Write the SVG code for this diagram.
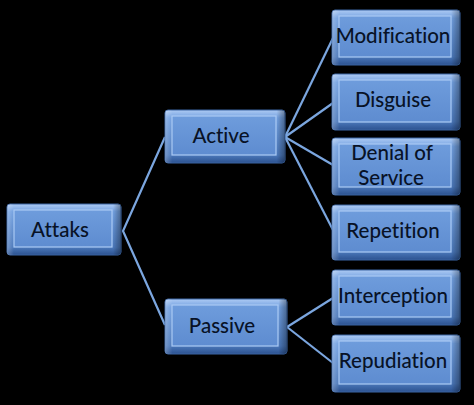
<svg xmlns="http://www.w3.org/2000/svg" width="474" height="405" viewBox="0 0 474 405">
<defs>
<linearGradient id="gv" x1="0" y1="0" x2="0" y2="1">
<stop offset="0" stop-color="#aecbf4"/>
<stop offset="0.15" stop-color="#72a0e0"/>
<stop offset="0.85" stop-color="#4b78ba"/>
<stop offset="1" stop-color="#2c5290"/>
</linearGradient>
<linearGradient id="gh" x1="0" y1="0" x2="1" y2="0">
<stop offset="0" stop-color="#ffffff" stop-opacity="0.25"/>
<stop offset="0.06" stop-color="#ffffff" stop-opacity="0"/>
<stop offset="0.93" stop-color="#000000" stop-opacity="0"/>
<stop offset="1" stop-color="#000000" stop-opacity="0.35"/>
</linearGradient>
<linearGradient id="gf" x1="0" y1="0" x2="0" y2="1">
<stop offset="0" stop-color="#6e9cdc"/>
<stop offset="1" stop-color="#5e8cd0"/>
</linearGradient>
</defs>
<style>
.o{fill:url(#gv);stroke:#3a64a3;stroke-width:1}
.s{fill:url(#gh)}
.f{fill:url(#gf);stroke:#abcaf3;stroke-width:1.2}
.t{font-family:Lato,"Open Sans","Liberation Sans",sans-serif;font-size:20.5px;font-weight:500;fill:#081226;text-anchor:middle;font-variant-ligatures:none}
.c{stroke:#7ba6df;stroke-width:2.2;fill:none}
</style>
<rect width="474" height="405" fill="#000000"/>
<g id="connectors">
<polyline class="c" points="165,137 123,231 165,325"/>
<line class="c" x1="285" y1="137" x2="333" y2="38"/>
<line class="c" x1="285" y1="137" x2="333" y2="103"/>
<line class="c" x1="285" y1="137" x2="333" y2="165"/>
<line class="c" x1="285" y1="137" x2="333" y2="230"/>
<line class="c" x1="287" y1="327" x2="333" y2="298"/>
<line class="c" x1="287" y1="327" x2="333" y2="363"/>
</g>
<g id="attaks">
<rect class="o" x="7" y="204" width="114" height="51" rx="3"/>
<rect class="s" x="7" y="204" width="114" height="51" rx="3"/>
<rect class="f" x="14" y="210" width="98" height="37"/>
<text class="t" x="60" y="237">Attaks</text>
</g>
<g id="active">
<rect class="o" x="165" y="110" width="120" height="53" rx="3"/>
<rect class="s" x="165" y="110" width="120" height="53" rx="3"/>
<rect class="f" x="172" y="116" width="104" height="39"/>
<text class="t" x="221" y="143">Active</text>
</g>
<g id="passive">
<rect class="o" x="165" y="299" width="122" height="55" rx="3"/>
<rect class="s" x="165" y="299" width="122" height="55" rx="3"/>
<rect class="f" x="172" y="305" width="106" height="41"/>
<text class="t" x="222" y="333">Passive</text>
</g>
<g id="modification">
<rect class="o" x="332" y="10" width="128" height="55" rx="3"/>
<rect class="s" x="332" y="10" width="128" height="55" rx="3"/>
<rect class="f" x="339" y="16" width="112" height="41"/>
<text class="t" x="393" y="43">Modification</text>
</g>
<g id="disguise">
<rect class="o" x="332" y="74" width="128" height="56" rx="3"/>
<rect class="s" x="332" y="74" width="128" height="56" rx="3"/>
<rect class="f" x="339" y="80" width="112" height="42"/>
<text class="t" x="393" y="107">Disguise</text>
</g>
<g id="denial">
<rect class="o" x="332" y="138" width="128" height="57" rx="3"/>
<rect class="s" x="332" y="138" width="128" height="57" rx="3"/>
<rect class="f" x="339" y="144" width="112" height="43"/>
<text class="t" x="392" y="160">Denial of</text>
<text class="t" x="391" y="185">Service</text>
</g>
<g id="repetition">
<rect class="o" x="332" y="205" width="128" height="55" rx="3"/>
<rect class="s" x="332" y="205" width="128" height="55" rx="3"/>
<rect class="f" x="339" y="211" width="112" height="41"/>
<text class="t" x="393" y="238">Repetition</text>
</g>
<g id="interception">
<rect class="o" x="332" y="270" width="128" height="55" rx="3"/>
<rect class="s" x="332" y="270" width="128" height="55" rx="3"/>
<rect class="f" x="339" y="276" width="112" height="41"/>
<text class="t" x="393" y="303">Interception</text>
</g>
<g id="repudiation">
<rect class="o" x="332" y="335" width="128" height="57" rx="3"/>
<rect class="s" x="332" y="335" width="128" height="57" rx="3"/>
<rect class="f" x="339" y="341" width="112" height="43"/>
<text class="t" x="393" y="368">Repudiation</text>
</g>
</svg>
